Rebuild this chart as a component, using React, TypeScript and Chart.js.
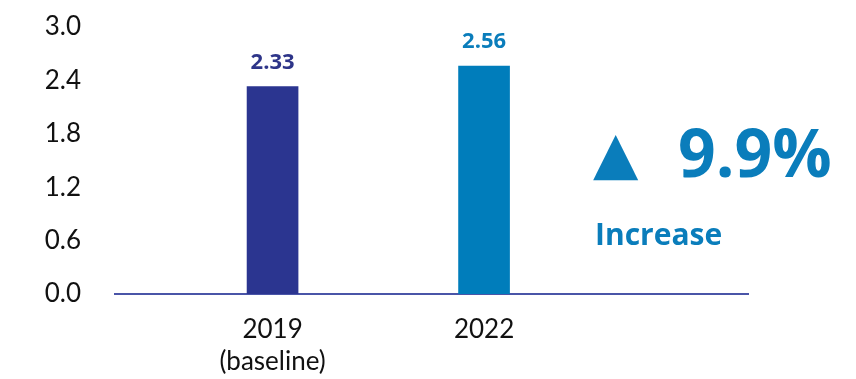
import React, { useEffect, useRef } from "react";
import { Chart, registerables } from "chart.js";

Chart.register(...registerables);

const categories: string[][] = [["2019", "(baseline)"], ["2022"]];
const positions: number[] = [1, 2];
const values: number[] = [2.33, 2.56];
const barColors: string[] = ["#2b3590", "#007dbb"];
const labelColors: string[] = ["#2e3589", "#0a7dbb"];
const yTicks: number[] = [0, 0.6, 1.2, 1.8, 2.4, 3.0];
const changeWord = "Increase";

export default function App() {
  const ref = useRef<HTMLCanvasElement | null>(null);

  useEffect(() => {
    document.body.style.margin = "0";
    const canvas = ref.current;
    if (!canvas) return;

    const pct = ((values[1] - values[0]) / values[0]) * 100;

    const overlay = {
      id: "overlay",
      afterDatasetsDraw(chart: any) {
        const ctx = chart.ctx;
        const meta = chart.getDatasetMeta(0);
        ctx.save();
        ctx.textAlign = "center";
        ctx.textBaseline = "alphabetic";
        ctx.font = "bold 22px 'Open Sans'";
        meta.data.forEach((el: any, i: number) => {
          ctx.fillStyle = labelColors[i];
          ctx.fillText(values[i].toFixed(2), el.x, el.y - 18);
        });
        // annotation
        ctx.fillStyle = "#0a7dbb";
        ctx.textAlign = "left";
        ctx.font = "59px 'DejaVu Sans'";
        ctx.fillText("▲", 593, 173);
        ctx.font = "bold 66px 'Open Sans'";
        ctx.fillText(pct.toFixed(1) + "%", 678, 177);
        ctx.font = "bold 30px 'Open Sans'";
        ctx.fillText(changeWord, 595, 245);
        ctx.restore();
      },
    };

    const chart = new Chart(canvas, {
      type: "bar",
      data: {
        datasets: [
          {
            data: positions.map((x, i) => ({ x, y: values[i] })),
            backgroundColor: barColors,
            barThickness: 51,
          },
        ],
      },
      options: {
        animation: false,
        responsive: false,
        maintainAspectRatio: false,
        layout: { padding: { top: 27, right: 108, bottom: 0, left: 0 } },
        plugins: { legend: { display: false }, tooltip: { enabled: false } },
        scales: {
          x: {
            type: "linear",
            offset: false,
            min: 0.255,
            max: 3.248,
            grid: { display: false, drawTicks: false, offset: false },
            border: { display: true, color: "#4a55a8", width: 2 },
            afterBuildTicks: (axis: any) => {
              axis.ticks = positions.map((v) => ({ value: v }));
            },
            afterFit: (axis: any) => {
              axis.height = 85;
              axis.paddingLeft = 0;
              axis.paddingRight = 0;
            },
            ticks: {
              padding: 19,
              color: "#111",
              font: { family: "Lato", size: 26, lineHeight: 1.25 },
              callback: (v: any) => {
                const i = positions.indexOf(Number(v));
                return i >= 0 ? categories[i] : "";
              },
              maxRotation: 0,
              autoSkip: false,
            },
          },
          y: {
            min: 0,
            max: 3.0,
            grid: { display: false, drawTicks: false },
            border: { display: false },
            afterBuildTicks: (axis: any) => {
              axis.ticks = yTicks.map((v) => ({ value: v }));
            },
            afterFit: (axis: any) => {
              axis.width = 115;
              axis.paddingTop = 0;
              axis.paddingBottom = 0;
            },
            ticks: {
              padding: 34,
              color: "#111",
              font: { family: "Lato", size: 26 },
              callback: (v: any) => Number(v).toFixed(1),
            },
          },
        },
      },
      plugins: [overlay],
    } as any);

    return () => chart.destroy();
  }, []);

  return (
    <div style={{ position: "absolute", left: 0, top: 0, width: 856, height: 379 }}>
      <canvas ref={ref} width={856} height={379} style={{ width: 856, height: 379 }} />
    </div>
  );
}
